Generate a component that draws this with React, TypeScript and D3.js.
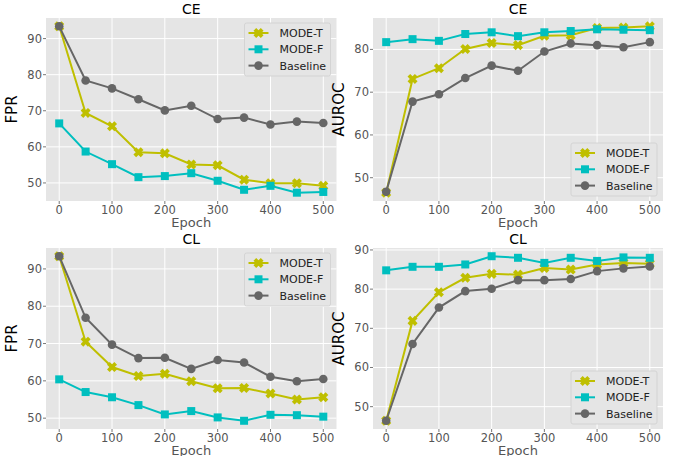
import React from 'react'
import * as d3 from 'd3'

const epochs = [0, 50, 100, 150, 200, 250, 300, 350, 400, 450, 500]
const xTicks = [0, 100, 200, 300, 400, 500]
const seriesNames = ['MODE-T', 'MODE-F', 'Baseline']
const seriesColors = ['#bfbf00', '#00bfbf', '#666666']
const seriesMarkers = ['x', 'square', 'circle']

// CE, FPR
const ceFprModeT = [93.4, 69.4, 65.7, 58.5, 58.2, 55.1, 54.9, 50.9, 49.9, 49.9, 49.2]
const ceFprModeF = [66.5, 58.7, 55.2, 51.6, 51.9, 52.7, 50.6, 48.1, 49.2, 47.3, 47.5]
const ceFprBase = [93.4, 78.4, 76.2, 73.2, 70.1, 71.4, 67.7, 68.1, 66.2, 67.0, 66.6]
// CE, AUROC
const ceAucModeT = [46.5, 73.1, 75.6, 80.1, 81.5, 81.0, 83.2, 83.3, 85.0, 85.1, 85.4]
const ceAucModeF = [81.7, 82.4, 82.0, 83.6, 84.0, 83.1, 84.0, 84.3, 84.7, 84.6, 84.5]
const ceAucBase = [46.7, 67.8, 69.5, 73.3, 76.2, 75.0, 79.5, 81.4, 81.0, 80.5, 81.7]
// CL, FPR
const clFprModeT = [93.4, 70.5, 63.7, 61.3, 61.9, 59.9, 58.0, 58.1, 56.6, 55.0, 55.6]
const clFprModeF = [60.4, 57.0, 55.6, 53.5, 51.0, 51.9, 50.2, 49.3, 50.9, 50.8, 50.4]
const clFprBase = [93.4, 76.9, 69.7, 66.1, 66.2, 63.2, 65.6, 64.9, 61.1, 59.9, 60.5]
// CL, AUROC
const clAucModeT = [46.4, 71.9, 79.2, 82.9, 83.9, 83.7, 85.4, 85.0, 86.3, 86.7, 86.5]
const clAucModeF = [84.8, 85.7, 85.7, 86.3, 88.4, 88.0, 86.7, 88.0, 87.2, 88.1, 88.0]
const clAucBase = [46.4, 66.0, 75.3, 79.5, 80.1, 82.3, 82.3, 82.6, 84.6, 85.3, 85.8]

const fprTicks = [50, 60, 70, 80, 90]
const ceAucTicks = [50, 60, 70, 80]
const clAucTicks = [50, 60, 70, 80, 90]

const FONT = 'DejaVu Sans, sans-serif'

function Marker({ kind, x, y, color }: { kind: string; x: number; y: number; color: string }) {
  if (kind === 'circle') return <circle cx={x} cy={y} r={4.3} fill={color} />
  if (kind === 'square') return <rect x={x - 4} y={y - 4} width={8} height={8} fill={color} />
  const r = 5.2, w = 1.9
  const pts = [[w, r], [w, w], [r, w], [r, -w], [w, -w], [w, -r], [-w, -r], [-w, -w], [-r, -w], [-r, w], [-w, w], [-w, r]]
  return <polygon points={pts.map(p => p.join(',')).join(' ')} fill={color} transform={`translate(${x},${y}) rotate(45)`} />
}

function Panel({ title, yLabel, series, yTicks, left, top, right, bottom, legendLower }: any) {
  const x = d3.scaleLinear().domain([-25, 525]).range([left, right])
  const all = series.flat()
  const [lo, hi] = d3.extent(all) as [number, number]
  const pad = (hi - lo) * 0.05
  const y = d3.scaleLinear().domain([lo - pad, hi + pad]).range([bottom, top])
  const line = d3.line<number>().x((_, i) => x(epochs[i])).y(d => y(d))
  const cx = (left + right) / 2

  const lw = 86, lh = 53
  const lx = right - lw - 6
  const ly = legendLower ? bottom - lh - 5 : top + 5

  return (
    <g fontFamily={FONT} fontWeight="normal">
      <rect x={left} y={top} width={right - left} height={bottom - top} fill="#e5e5e5" />
      {xTicks.map(t => (
        <g key={'x' + t}>
          <line x1={x(t)} x2={x(t)} y1={top} y2={bottom} stroke="#fff" strokeWidth={1} />
          <line x1={x(t)} x2={x(t)} y1={bottom} y2={bottom + 3} stroke="#555" strokeWidth={0.8} />
          <text x={x(t)} y={bottom + 13} textAnchor="middle" fontSize={11.5} fill="#555">{t}</text>
        </g>
      ))}
      {yTicks.map((t: number) => (
        <g key={'y' + t}>
          <line x1={left} x2={right} y1={y(t)} y2={y(t)} stroke="#fff" strokeWidth={1} />
          <line x1={left - 3} x2={left} y1={y(t)} y2={y(t)} stroke="#555" strokeWidth={0.8} />
          <text x={left - 4} y={y(t) + 4} textAnchor="end" fontSize={11.5} fill="#555">{t}</text>
        </g>
      ))}
      {series.map((s: number[], k: number) => (
        <g key={'s' + k}>
          <path d={line(s) || ''} fill="none" stroke={seriesColors[k]} strokeWidth={2} />
          {s.map((v, i) => <Marker key={i} kind={seriesMarkers[k]} x={x(epochs[i])} y={y(v)} color={seriesColors[k]} />)}
        </g>
      ))}
      <text x={cx} y={top - 4} textAnchor="middle" fontSize={14} fill="#000">{title}</text>
      <text x={cx} y={bottom + 26} textAnchor="middle" fontSize={13} fill="#555">Epoch</text>
      <text transform={`translate(${left - 29},${(top + bottom) / 2}) rotate(-90)`} textAnchor="middle" fontSize={15} fill="#000">{yLabel}</text>
      <rect x={lx} y={ly} width={lw} height={lh} rx={2} fill="#e5e5e5" stroke="#cfcfcf" strokeWidth={0.8} />
      {seriesNames.map((n, k) => {
        const ry = ly + 10 + k * 16.3
        return (
          <g key={n}>
            <line x1={lx + 4} x2={lx + 24} y1={ry} y2={ry} stroke={seriesColors[k]} strokeWidth={2} />
            <Marker kind={seriesMarkers[k]} x={lx + 14} y={ry} color={seriesColors[k]} />
            <text x={lx + 35} y={ry + 4} fontSize={11} fill="#222">{n}</text>
          </g>
        )
      })}
    </g>
  )
}

export default function App() {
  return (
    <svg width={680} height={456} style={{ position: 'absolute', left: 0, top: 0, background: '#fff' }}>
      <Panel title="CE" yLabel="FPR" series={[ceFprModeT, ceFprModeF, ceFprBase]} yTicks={fprTicks}
        left={46} right={336.5} top={18} bottom={201} legendLower={false} />
      <Panel title="CE" yLabel="AUROC" series={[ceAucModeT, ceAucModeF, ceAucBase]} yTicks={ceAucTicks}
        left={373} right={663} top={18} bottom={201} legendLower={true} />
      <Panel title="CL" yLabel="FPR" series={[clFprModeT, clFprModeF, clFprBase]} yTicks={fprTicks}
        left={46} right={336.5} top={248} bottom={429} legendLower={false} />
      <Panel title="CL" yLabel="AUROC" series={[clAucModeT, clAucModeF, clAucBase]} yTicks={clAucTicks}
        left={373} right={663} top={248} bottom={429} legendLower={true} />
    </svg>
  )
}
